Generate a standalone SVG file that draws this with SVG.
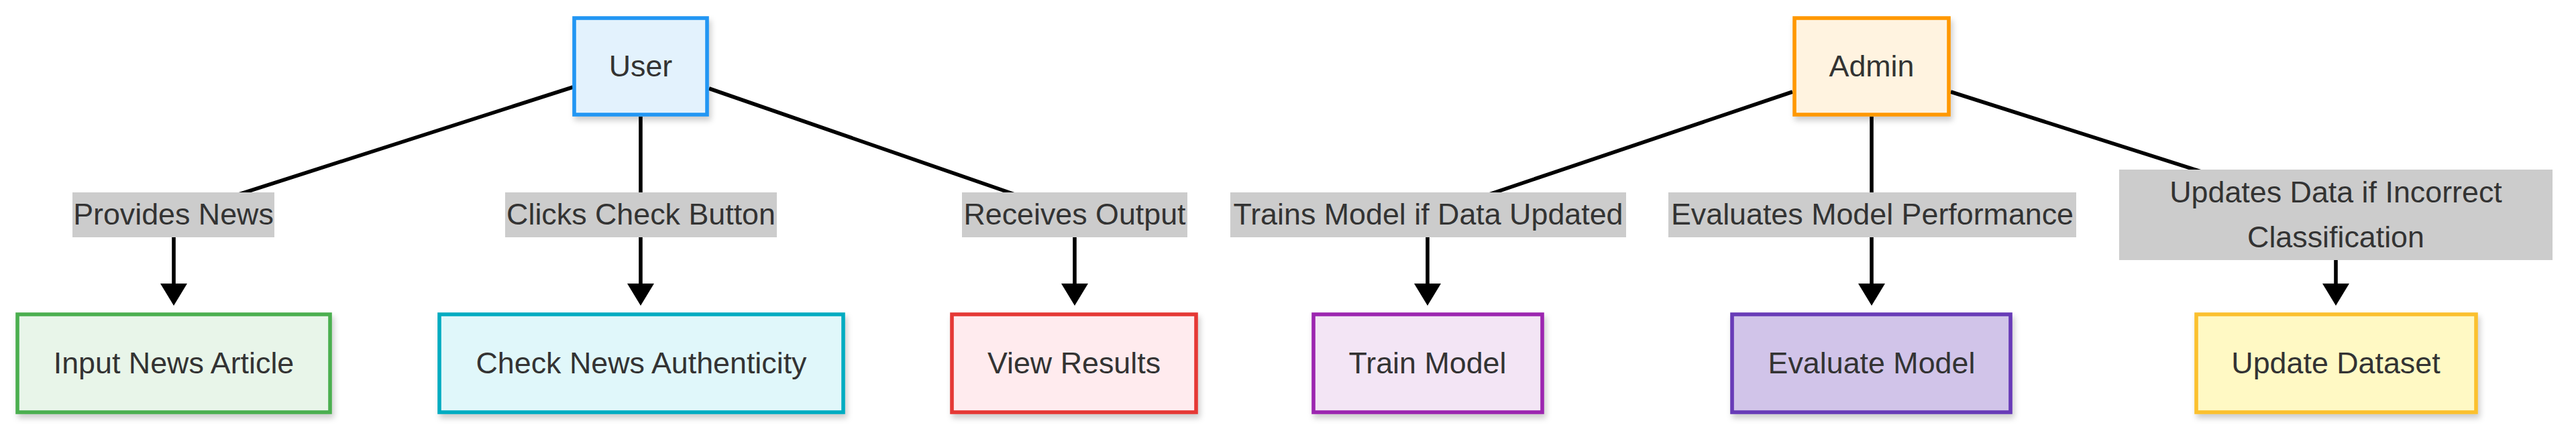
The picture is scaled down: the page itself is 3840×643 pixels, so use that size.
<svg xmlns="http://www.w3.org/2000/svg" width="3840" height="643" viewBox="0 0 3840 643">
<style>
.node rect{stroke-width:5.6px;filter:url(#sh)}
.node text,.lbl text{font-family:"Liberation Sans",Arial,sans-serif;font-size:44.8px;fill:#333333;text-anchor:middle}
.lbl rect{fill:#cccccc}
.edge{fill:none;stroke:#000000;stroke-width:5.6px;marker-end:url(#ah)}
</style>
<defs>
<filter id="sh" x="-10%" y="-10%" width="130%" height="140%">
<feDropShadow dx="3" dy="6" stdDeviation="4" flood-color="#000000" flood-opacity="0.2"/>
</filter>
<marker id="ah" markerUnits="userSpaceOnUse" markerWidth="33" markerHeight="40" viewBox="0 0 33 40" refX="3" refY="20" orient="auto">
<path d="M0,0 L33,20 L0,40 z" fill="#000000"/>
</marker>
</defs>
<g id="connectors">
<path class="edge" d="M854,130 L259,321 L259,426"/>
<path class="edge" d="M955,174 L955,426"/>
<path class="edge" d="M1057,132 L1602,321 L1602,426"/>
<path class="edge" d="M2672,137 L2128,321 L2128,426"/>
<path class="edge" d="M2790,174 L2790,426"/>
<path class="edge" d="M2908,137 L3482,320 L3482,426"/>
</g>
<g id="edge-labels">
<g class="lbl" id="lbl-provides"><rect x="108" y="287" width="301" height="67"/><text x="258.5" y="335">Provides News</text></g>
<g class="lbl" id="lbl-clicks"><rect x="753" y="287" width="405" height="67"/><text x="955.5" y="335">Clicks Check Button</text></g>
<g class="lbl" id="lbl-receives"><rect x="1434" y="287" width="336" height="67"/><text x="1602" y="335">Receives Output</text></g>
<g class="lbl" id="lbl-trains"><rect x="1834" y="287" width="590" height="67"/><text x="2129" y="335">Trains Model if Data Updated</text></g>
<g class="lbl" id="lbl-evaluates"><rect x="2487" y="287" width="608" height="67"/><text x="2791" y="335">Evaluates Model Performance</text></g>
<g class="lbl" id="lbl-updates"><rect x="3159" y="253" width="646" height="135"/><text x="3482" y="302">Updates Data if Incorrect</text><text x="3482" y="369">Classification</text></g>
</g>
<g class="node" id="user"><rect x="856" y="27" width="198" height="144" fill="#E3F2FD" stroke="#2196F3"/><text x="955" y="114">User</text></g>
<g class="node" id="admin"><rect x="2675" y="27" width="230" height="144" fill="#FFF3E0" stroke="#FF9800"/><text x="2790" y="114">Admin</text></g>
<g class="node" id="input"><rect x="26" y="469" width="466" height="146" fill="#E8F5E9" stroke="#4CAF50"/><text x="259" y="557">Input News Article</text></g>
<g class="node" id="check"><rect x="655" y="469" width="602" height="146" fill="#E0F7FA" stroke="#00ACC1"/><text x="956" y="557">Check News Authenticity</text></g>
<g class="node" id="view"><rect x="1419" y="469" width="364" height="146" fill="#FFEBEE" stroke="#E53935"/><text x="1601" y="557">View Results</text></g>
<g class="node" id="train"><rect x="1958" y="469" width="341" height="146" fill="#F3E5F5" stroke="#9C27B0"/><text x="2128" y="557">Train Model</text></g>
<g class="node" id="evaluate"><rect x="2582" y="469" width="415" height="146" fill="#D1C4E9" stroke="#673AB7"/><text x="2790" y="557">Evaluate Model</text></g>
<g class="node" id="update"><rect x="3274" y="469" width="417" height="146" fill="#FFF9C4" stroke="#FBC02D"/><text x="3482" y="557">Update Dataset</text></g>
</svg>
